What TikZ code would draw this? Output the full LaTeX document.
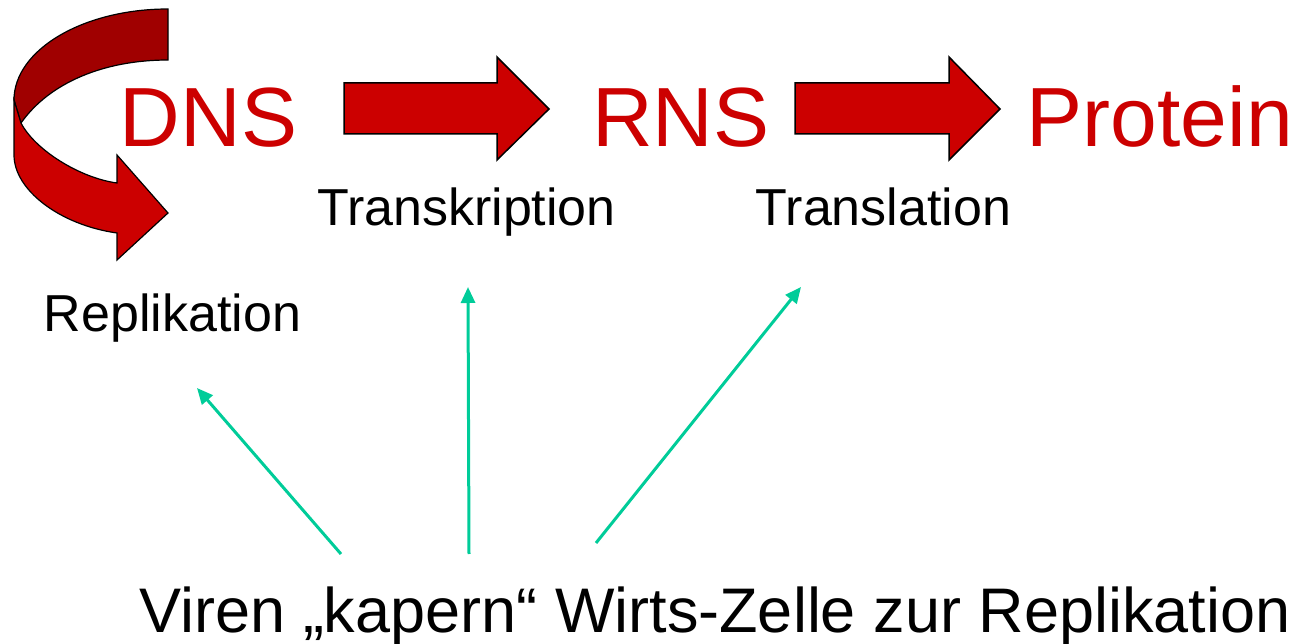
\documentclass[tikz,border=0pt]{standalone}
\usepackage{fontspec}
\setmainfont{Liberation Sans}
\usetikzlibrary{arrows.meta}
\definecolor{pred}{RGB}{204,0,0}
\definecolor{dred}{RGB}{160,0,0}
\definecolor{pgreen}{RGB}{0,204,153}
\begin{document}
\begin{tikzpicture}[x=1pt,y=-1pt,
  big/.style={text=pred, font=\fontsize{84}{84}\selectfont, anchor=base, inner sep=0pt},
  lab/.style={text=black, font=\fontsize{52}{52}\selectfont, anchor=base, inner sep=0pt},
  blockarrow/.style={fill=pred, draw=black, line width=1.5pt, line join=miter},
  ribbon/.style={draw=black, line width=1.2pt, line join=miter},
  hijack/.style={draw=pgreen, line width=3pt, -{Triangle[length=16pt,width=14pt]}}]
\useasboundingbox (0,0) rectangle (1310,644);

% curved replication arrow
\path[ribbon, fill=dred] (168,9) .. controls (83,9) and (14,50) .. (14,100)
  -- (21,123) .. controls (50,82) and (105,60) .. (168,60) -- cycle;
\path[ribbon, fill=pred] (14,100) -- (14,155) .. controls (14,190) and (60,225) .. (117,233)
  -- (117,260) -- (168,213) -- (117,155) -- (117,183)
  .. controls (80,178) and (35,150) .. (21,123) -- cycle;

% block arrows
\path[blockarrow] (344,83) -- (497,83) -- (497,57) -- (549,109) -- (497,160) -- (497,134) -- (344,134) -- cycle;
\path[blockarrow] (795,83) -- (949,83) -- (949,57) -- (1000,109) -- (949,160) -- (949,134) -- (795,134) -- cycle;

% texts
\node[big] (dns) at (208.5,147) {DNS};
\node[big] (rns) at (681,147) {RNS};
\node[big] (prot) at (1160,147) {Protein};
\node[lab] (trk) at (466.5,226) {Transkription};
\node[lab] (trl) at (883.5,226) {Translation};
\node[lab] (rep) at (172.5,332) {Replikation};
\node[text=black, font=\fontsize{63}{63}\selectfont, anchor=base, inner sep=0pt] (viren) at (715,632) {Viren „kapern“ Wirts-Zelle zur Replikation};

% green arrows
\coordinate (s1) at (341,554);
\coordinate (s2) at (469,554);
\coordinate (s3) at (596,543);
\coordinate (t1) at (197,388);
\coordinate (t2) at (468,287);
\coordinate (t3) at (801,287);
\draw[hijack] (s1) -- (t1);
\draw[hijack] (s2) -- (t2);
\draw[hijack] (s3) -- (t3);
\end{tikzpicture}
\end{document}
